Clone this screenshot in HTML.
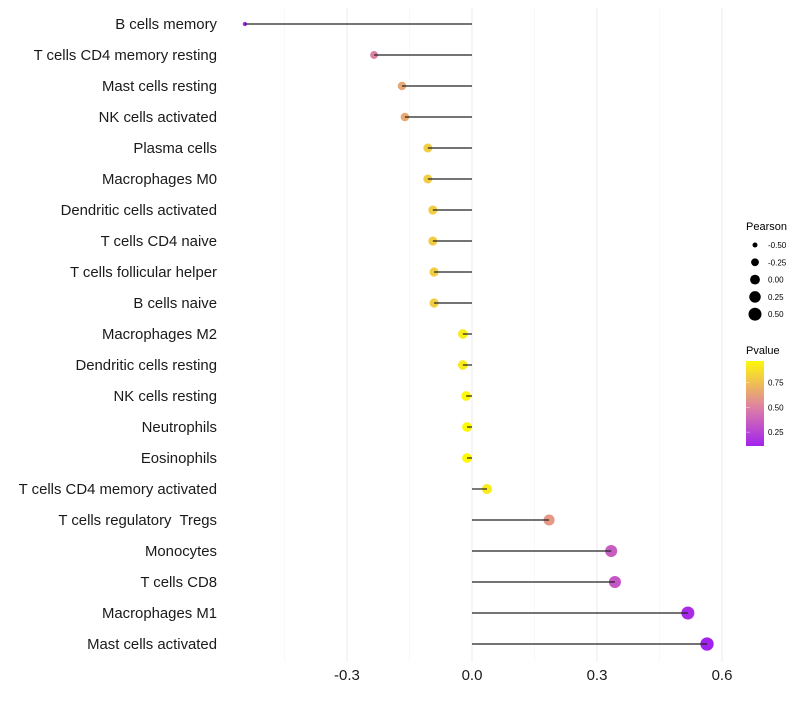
<!DOCTYPE html>
<html><head><meta charset="utf-8"><style>
body{margin:0;background:#fff;font-family:"Liberation Sans",sans-serif}
text{white-space:pre}
</style></head><body>
<svg id="chart" width="800" height="700" xmlns="http://www.w3.org/2000/svg">
<g id="grid"></g><g id="marks"></g><g id="stems"></g><g id="labels"></g><g id="legend"></g>
</svg>
<script>
const categories=["B cells memory","T cells CD4 memory resting","Mast cells resting","NK cells activated","Plasma cells","Macrophages M0","Dendritic cells activated","T cells CD4 naive","T cells follicular helper","B cells naive","Macrophages M2","Dendritic cells resting","NK cells resting","Neutrophils","Eosinophils","T cells CD4 memory activated","T cells regulatory  Tregs ","Monocytes","T cells CD8","Macrophages M1","Mast cells activated"];
const pearson=[-0.545,-0.235,-0.168,-0.161,-0.106,-0.106,-0.094,-0.094,-0.091,-0.091,-0.022,-0.022,-0.014,-0.012,-0.012,0.036,0.185,0.334,0.343,0.518,0.564];
const pvalues=[0.12,0.5,0.65,0.66,0.8,0.8,0.8,0.8,0.8,0.8,0.93,0.92,0.97,0.98,0.98,0.92,0.6,0.35,0.33,0.15,0.11];
const xTicks=[-0.3,0.0,0.3,0.6];
const xTickLabels=["-0.3","0.0","0.3","0.6"];
const sizeLegend=[-0.5,-0.25,0,0.25,0.5];
const sizeLegendLabels=["-0.50","-0.25","0.00","0.25","0.50"];
const colorLegend=[0.75,0.5,0.25];

const NS="http://www.w3.org/2000/svg";
const x=v=>472+v*416.7;
const y=i=>24+i*31;
const r=v=>Math.sqrt(Math.max(1.5,24.1+35.75*v));
function col(p){
  const stops=[[0.1,[160,32,240]],[0.5,[222,128,165]],[1.0,[255,255,0]]];
  p=Math.max(0.1,Math.min(1,p));
  for(let k=0;k<stops.length-1;k++){const[a,ca]=stops[k],[b,cb]=stops[k+1];
    if(p<=b){const t=(p-a)/(b-a);return `rgb(${ca.map((c,j)=>Math.round(c+(cb[j]-c)*t)).join(',')})`;}}
  return "rgb(255,255,0)";
}
function mk(tag,attrs,parent,text){const e=document.createElementNS(NS,tag);for(const k in attrs)e.setAttribute(k,attrs[k]);if(text!==undefined)e.textContent=text;document.getElementById(parent).appendChild(e);return e;}

[-0.45,-0.15,0.15,0.45].forEach(v=>{const l=mk('line',{x1:x(v),x2:x(v),y1:8,y2:662,stroke:'#f3f3f3','stroke-width':0.6},'grid');

});
xTicks.forEach((v,i)=>{const l=mk('line',{x1:x(v),x2:x(v),y1:8,y2:662,stroke:'#ebebeb','stroke-width':1},'grid');


const t=mk('text',{x:x(v),y:680,'font-size':15,'text-anchor':'middle',fill:'#1a1a1a'},'labels',xTickLabels[i]);

});
categories.forEach((c,i)=>{
  const d=mk('circle',{cx:x(pearson[i]),cy:y(i),r:r(pearson[i]),fill:col(pvalues[i])},'marks');
  
  
  const l=mk('line',{x1:x(0),x2:x(pearson[i]),y1:y(i),y2:y(i),stroke:'#222','stroke-width':1.2},'stems');
  
  
  const t=mk('text',{x:217,y:y(i)+5,'font-size':14.9,'text-anchor':'end',fill:'#1a1a1a'},'labels',c.trimEnd());
  
  
});
let t=mk('text',{x:746,y:230,'font-size':11,fill:'#000'},'legend','Pearson');


sizeLegend.forEach((v,i)=>{const cy=245+i*17.3;
 const c=mk('circle',{cx:755,cy:cy,r:r(v),fill:'#000'},'legend');
 
 
 const tt=mk('text',{x:768,y:cy+3,'font-size':8,fill:'#000'},'legend',sizeLegendLabels[i]);
 
 });
t=mk('text',{x:746,y:354,'font-size':11,fill:'#000'},'legend','Pvalue');


const defs=mk('defs',{},'legend');
const g=document.createElementNS(NS,'linearGradient');g.id='pg';g.setAttribute('x1',0);g.setAttribute('y1',1);g.setAttribute('x2',0);g.setAttribute('y2',0);defs.appendChild(g);
for(let k=0;k<=10;k++){const s=document.createElementNS(NS,'stop');s.setAttribute('offset',k/10);s.setAttribute('stop-color',col(0.11+0.86*k/10));g.appendChild(s);}
const py=p=>446-(p-0.11)/0.86*85;
const bar=mk('rect',{x:746,y:361,width:18,height:85,fill:'url(#pg)'},'legend');


colorLegend.forEach(p=>{
 const l=mk('line',{x1:746,x2:750,y1:py(p),y2:py(p),stroke:'#fff','stroke-width':0.6,opacity:0.6},'legend');
 
 
 const tt=mk('text',{x:768,y:py(p)+3,'font-size':8,fill:'#000'},'legend',p.toFixed(2));
 
 });
</script>
</body></html>
